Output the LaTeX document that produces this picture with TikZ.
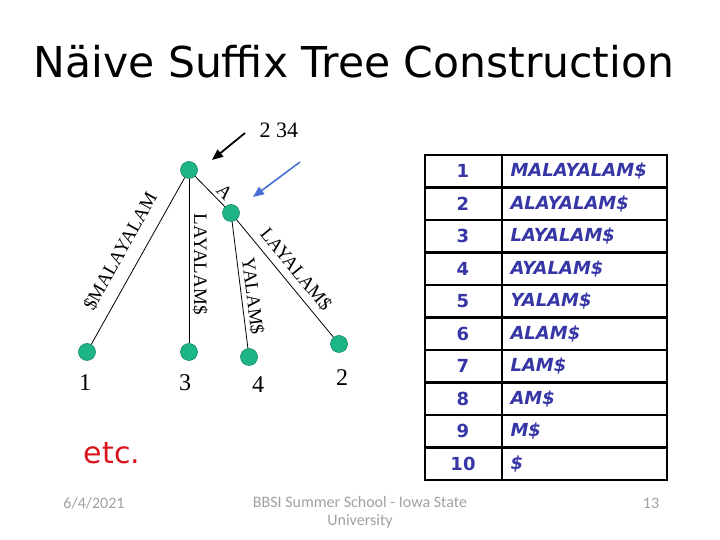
\documentclass[tikz,border=0pt]{standalone}
\usepackage{fontspec}
\setmainfont{Liberation Serif}
\newfontfamily\slidefont{DejaVu Sans}
\newfontfamily\footfont{Carlito}
\usetikzlibrary{arrows.meta}
\definecolor{nodegreen}{HTML}{1DB588}
\definecolor{tabblue}{HTML}{3636A6}
\definecolor{ptrblue}{HTML}{4A70D8}
\definecolor{etcred}{HTML}{D8141E}
\definecolor{footgray}{HTML}{A0A0A0}

\begin{document}
\begin{tikzpicture}[x=1pt,y=1pt,
  vert/.style={circle,fill=nodegreen,draw=nodegreen!75!black,line width=0.6pt,
    minimum size=17pt,inner sep=0pt},
  elab/.style={font=\fontsize{19}{19}\selectfont,sloped,above},
  leafnum/.style={font=\fontsize{24}{24}\selectfont},
  tabnum/.style={font=\slidefont\bfseries\fontsize{18}{18}\selectfont,text=tabblue},
  tabsuf/.style={font=\slidefont\bfseries\itshape\fontsize{18}{18}\selectfont,
    text=tabblue,anchor=west},
  foot/.style={font=\footfont\fontsize{16}{18}\selectfont,text=footgray}]
\useasboundingbox (0,0) rectangle (720,540);

% title
\node[font=\slidefont\fontsize{42.5}{44}\selectfont,anchor=base] (title) at (354,462)
  {Näive Suffix Tree Construction};

% the tree
\node[vert] (root) at (189,370) {};
\node[vert] (a) at (231,327) {};
\node[vert] (l1) at (87,188) {};
\node[vert] (l3) at (189,188) {};
\node[vert] (l4) at (249,183) {};
\node[vert] (l2) at (339,196) {};

\draw[line width=0.8pt] (l1) -- node[elab,above=9pt,pos=0.5] {\$MALAYALAM} (root);
\draw[line width=0.8pt] (root) -- node[elab,pos=0.52] {LAYALAM\$} (l3);
\draw[line width=0.8pt] (root) -- node[elab,pos=0.75] {A} (a);
\draw[line width=0.8pt] (a) -- node[elab,pos=0.6] {YALAM\$} (l4);
\draw[line width=0.8pt] (a) -- node[elab,pos=0.5,above=3pt] {LAYALAM\$} (l2);

\node[leafnum] (n1) at (85,157) {1};
\node[leafnum] (n3) at (185,157) {3};
\node[leafnum] (n4) at (258,155) {4};
\node[leafnum] (n2) at (342,162) {2};

% pointers
\node[font=\fontsize{22}{22}\selectfont,anchor=west] (cnt) at (256,410) {2 34};
\coordinate (bk0) at (245,407);
\coordinate (bk1) at (212,380);
\coordinate (bl0) at (300,378);
\coordinate (bl1) at (253,343);
\draw[-{Triangle[length=11pt,width=9pt]},line width=1.8pt] (bk0) -- (bk1);
\draw[-{Triangle[length=11pt,width=9pt]},line width=1.6pt,ptrblue] (bl0) -- (bl1);

% suffix table
\foreach \i/\s in {1/MALAYALAM\$,2/ALAYALAM\$,3/LAYALAM\$,4/AYALAM\$,5/YALAM\$,
    6/ALAM\$,7/LAM\$,8/AM\$,9/M\$,10/\$}{
  \node[tabnum] (num\i) at (463,{385-32.5*(\i-0.5)}) {\i};
  \node[tabsuf] (suf\i) at (507,{385-32.5*(\i-0.5)}) {\s};
}
\draw[line width=2.5pt] (425,385) rectangle (667,60);
\foreach \k in {1,...,9}
  \draw[line width=2.5pt] (425,{385-32.5*\k}) -- (667,{385-32.5*\k});
\draw[line width=2.5pt] (502,385) -- (502,60);

\node[font=\slidefont\fontsize{30}{30}\selectfont,text=etcred] (etc) at (112,87) {etc.};

% footer
\node[foot] (date) at (94,37) {6/4/2021};
\node[foot,align=center] (venue) at (360,28) {BBSI Summer School - Iowa State\\University};
\node[foot] (page) at (651,37) {13};
\end{tikzpicture}
\end{document}
